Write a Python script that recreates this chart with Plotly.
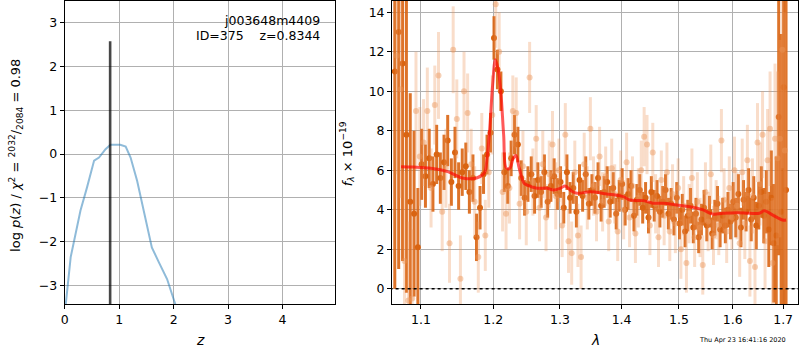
import numpy as np
import plotly.graph_objects as go

# ---------------- data ----------------
# left panel: log p(z)
pz_z = [0.0, 0.02, 0.11, 0.17, 0.29, 0.41, 0.54, 0.63, 0.75, 0.84, 0.93, 1.02, 1.12, 1.21, 1.33, 1.45,
        1.60, 1.73, 1.88, 2.03, 2.10]
pz_logp = [-3.9, -3.42, -2.35, -1.97, -1.29, -0.76, -0.15, -0.08, 0.11, 0.21, 0.21, 0.21, 0.17, -0.08,
           -0.61, -1.29, -2.13, -2.47, -2.85, -3.42, -3.7]
z_best = 0.8344
z_line_top = 2.57

# right panel: spectrum (dark points)
dark_lam = [1.066, 1.071, 1.076, 1.081, 1.086, 1.091, 1.096, 1.101, 1.106, 1.111, 1.116, 1.121, 1.126,
            1.131, 1.136, 1.141, 1.146, 1.151, 1.156, 1.161, 1.166, 1.171, 1.176, 1.181, 1.186, 1.191,
            1.196, 1.201, 1.206, 1.211, 1.216, 1.221, 1.226, 1.231, 1.236, 1.241, 1.246, 1.251, 1.256,
            1.261, 1.266, 1.271, 1.276, 1.281, 1.286, 1.291, 1.296, 1.301, 1.306, 1.311, 1.316, 1.321,
            1.326, 1.331, 1.336, 1.341, 1.346, 1.351, 1.356, 1.361, 1.366, 1.371, 1.376, 1.381, 1.386,
            1.391, 1.396, 1.401, 1.406, 1.411, 1.416, 1.421, 1.426, 1.431, 1.436, 1.441, 1.446, 1.451,
            1.456, 1.461, 1.466, 1.471, 1.476, 1.481, 1.486, 1.491, 1.496, 1.501, 1.506, 1.511, 1.516,
            1.521, 1.526, 1.531, 1.536, 1.541, 1.546, 1.551, 1.556, 1.561, 1.566, 1.571, 1.576, 1.581,
            1.586, 1.591, 1.596, 1.601, 1.606, 1.611, 1.616, 1.621, 1.626, 1.631, 1.636, 1.641, 1.646,
            1.651, 1.656, 1.661, 1.666, 1.671, 1.676, 1.681, 1.686, 1.691, 1.696, 1.701, 1.706]
dark_flux = [11.0, 13.0, 11.4, 7.8, 4.4, 3.8, 2.1, 6.3, 5.7, 6.6, 5.3, 6.8, 5.6,
             6.4, 7.5, 5.4, 6.9, 5.2, 5.9, 6.2, 4.9, 5.6, 2.6, 4.1, 5.8, 6.8,
             7.9, 12.7, 11.1, 10.0, 5.9, 5.2, 6.6, 7.8, 7.3, 5.6, 4.6, 5.3, 5.8,
             4.7, 5.5, 4.9, 5.9, 4.4, 5.2, 5.7, 4.8, 5.4, 4.1, 5.9, 4.6, 5.1,
             3.9, 5.5, 4.7, 5.8, 4.3, 5.0, 4.6, 5.6, 4.2, 4.9, 5.4, 4.4, 5.1,
             3.8, 4.7, 5.3, 4.0, 4.8, 5.2, 3.7, 4.5, 5.0, 4.1, 4.6, 3.6, 4.9,
             4.2, 4.7, 3.9, 4.4, 5.0, 3.8, 4.3, 3.5, 4.6, 3.3, 4.0, 2.9, 3.7,
             4.2, 3.1, 3.8, 2.6, 3.5, 4.1, 3.2, 3.9, 2.8, 3.6, 4.3, 3.0, 3.7,
             3.2, 4.0, 3.4, 4.4, 3.6, 4.8, 3.1, 4.5, 3.9, 5.0, 3.5, 4.6, 3.2,
             4.2, 4.9, 3.7, 4.4, 3.0, 4.6, 2.3, 2.7, 8.7, 3.9, 10.2, 5.0]
dark_err = [11.0, 12.0, 10.0, 8.0, 5.5, 4.2, 3.0, 1.8, 1.6, 1.5, 1.4, 1.5, 1.3,
            1.4, 1.3, 1.2, 1.3, 1.2, 1.2, 1.2, 1.1, 1.2, 1.2, 1.1, 1.0, 1.0,
            1.0, 1.1, 1.0, 1.0, 1.0, 0.9, 0.9, 1.0, 0.9, 0.9, 0.9, 0.9, 0.9,
            0.9, 0.9, 0.8, 0.9, 0.8, 0.8, 0.9, 0.8, 0.8, 0.8, 0.9, 0.8, 0.8,
            0.8, 0.8, 0.8, 0.9, 0.8, 0.8, 0.8, 0.8, 0.8, 0.8, 0.8, 0.8, 0.8,
            0.8, 0.8, 0.8, 0.8, 0.8, 0.8, 0.8, 0.8, 0.8, 0.8, 0.8, 0.8, 0.8,
            0.8, 0.8, 0.8, 0.8, 0.8, 0.8, 0.8, 0.8, 0.8, 0.8, 0.8, 0.8, 0.8,
            0.9, 0.8, 0.8, 0.8, 0.8, 0.9, 0.8, 0.8, 0.8, 0.9, 0.9, 0.9, 0.9,
            0.9, 0.9, 0.9, 1.0, 1.0, 1.0, 1.0, 1.0, 1.0, 1.1, 1.1, 1.1, 1.2,
            1.2, 1.3, 1.4, 1.6, 1.9, 2.4, 3.0, 4.0, 7.0, 9.0, 11.0, 13.0]

# right panel: spectrum (light points)
light_lam = [1.0685, 1.0735, 1.0785, 1.0835, 1.0885, 1.0935, 1.0985, 1.1035, 1.1085, 1.1135, 1.1185,
             1.1235, 1.1285, 1.1335, 1.1385, 1.1435, 1.1485, 1.1535, 1.1585, 1.1635, 1.1685, 1.1735,
             1.1785, 1.1835, 1.1885, 1.1935, 1.1985, 1.2035, 1.2085, 1.2135, 1.2185, 1.2235, 1.2285,
             1.2335, 1.2385, 1.2435, 1.2485, 1.2535, 1.2585, 1.2635, 1.2685, 1.2735, 1.2785, 1.2835,
             1.2885, 1.2935, 1.2985, 1.3035, 1.3085, 1.3135, 1.3185, 1.3235, 1.3285, 1.3335, 1.3385,
             1.3435, 1.3485, 1.3535, 1.3585, 1.3635, 1.3685, 1.3735, 1.3785, 1.3835, 1.3885, 1.3935,
             1.3985, 1.4035, 1.4085, 1.4135, 1.4185, 1.4235, 1.4285, 1.4335, 1.4385, 1.4435, 1.4485,
             1.4535, 1.4585, 1.4635, 1.4685, 1.4735, 1.4785, 1.4835, 1.4885, 1.4935, 1.4985, 1.5035,
             1.5085, 1.5135, 1.5185, 1.5235, 1.5285, 1.5335, 1.5385, 1.5435, 1.5485, 1.5535, 1.5585,
             1.5635, 1.5685, 1.5735, 1.5785, 1.5835, 1.5885, 1.5935, 1.5985, 1.6035, 1.6085, 1.6135,
             1.6185, 1.6235, 1.6285, 1.6335, 1.6385, 1.6435, 1.6485, 1.6535, 1.6585, 1.6635, 1.6685,
             1.6735, 1.6785, 1.6835, 1.6885, 1.6935, 1.6985, 1.7035]
light_flux = [11.8, 10.1, 1.4, -0.6, -0.5, 9.0, 6.7, 7.4, 9.0, 5.1, 9.3,
              10.8, 3.9, 6.1, 2.3, 12.1, 8.6, 0.5, 10.0, 8.9, 6.3, 4.4,
              1.6, 7.1, 2.7, 5.9, 8.8, 14.4, 12.0, 4.9, 3.8, 5.1, 9.0,
              8.9, 4.3, 6.2, 3.9, 10.7, 5.4, 7.6, 4.1, 6.3, 3.6, 5.8,
              7.3, 4.7, 6.0, 3.2, 7.8, 2.4, 1.8, 5.9, 2.7, 1.6, 6.3,
              4.6, 8.1, 5.2, 3.9, 6.7, 4.4, 5.7, 3.4, 6.1, 4.8, 2.9,
              5.5, 4.0, 6.4, 3.6, 5.2, 2.8, 4.6, 6.0, 7.7, 7.3, 3.2,
              6.9, 4.3, 2.6, 5.5, 3.7, 5.9, 2.9, 4.8, 3.3, 5.1, 2.0,
              4.2, 1.3, 3.8, 5.6, 2.6, 4.4, 3.1, 1.2, 4.9, 3.4, 5.8,
              2.7, 4.0, 3.2, 7.5, 4.5, 2.9, 5.1, 3.6, 6.0, 4.2, 2.3,
              5.9, 3.3, 6.5, 1.4, 4.7, 1.1, 7.4, 5.3, 7.8, 2.4, 6.5,
              8.1, 1.3, 7.6, 6.6, 7.6, 12.1, 7.0]
light_err = [6.0, 5.5, 4.5, 4.0, 3.5, 3.0, 2.5, 2.2, 2.2, 2.0, 2.0,
             2.2, 2.0, 2.0, 2.0, 2.2, 2.0, 2.2, 2.0, 2.0, 1.8, 1.8,
             1.8, 1.8, 1.8, 1.8, 2.0, 2.2, 2.0, 2.0, 1.8, 1.8, 1.8,
             1.8, 1.8, 1.8, 1.7, 1.8, 1.7, 1.7, 1.7, 1.7, 1.7, 1.7,
             1.7, 1.7, 1.6, 1.6, 1.6, 1.6, 1.6, 1.6, 1.6, 1.6, 1.6,
             1.6, 1.6, 1.5, 1.5, 1.5, 1.5, 1.5, 1.5, 1.5, 1.5, 1.5,
             1.5, 1.5, 1.5, 1.5, 1.5, 1.5, 1.5, 1.5, 1.5, 1.5, 1.5,
             1.5, 1.5, 1.5, 1.5, 1.5, 1.5, 1.5, 1.5, 1.5, 1.5, 1.5,
             1.5, 1.5, 1.5, 1.5, 1.5, 1.5, 1.5, 1.5, 1.5, 1.5, 1.5,
             1.5, 1.5, 1.5, 1.6, 1.6, 1.6, 1.6, 1.6, 1.7, 1.7, 1.7,
             1.7, 1.8, 1.8, 1.8, 1.9, 1.9, 2.0, 2.1, 2.2, 2.4, 2.6,
             2.9, 3.3, 3.8, 4.4, 5.0, 6.0, 7.0]

# model
model_lam = [1.074, 1.090, 1.113, 1.136, 1.158, 1.177, 1.187, 1.191, 1.195, 1.199, 1.203, 1.207, 1.211,
             1.215, 1.219, 1.224, 1.229, 1.233, 1.238, 1.245, 1.250, 1.265, 1.280, 1.290, 1.301, 1.308,
             1.318, 1.327, 1.348, 1.375, 1.403, 1.414, 1.437, 1.454, 1.472, 1.496, 1.520, 1.544, 1.562,
             1.581, 1.607, 1.633, 1.652, 1.662, 1.679, 1.699, 1.706]
model_flux = [6.18, 6.16, 6.10, 5.93, 5.59, 5.62, 5.85, 6.6, 8.2, 10.3, 11.6, 11.1, 9.9,
              7.8, 6.1, 6.1, 6.6, 6.75, 6.1, 5.35, 5.25, 5.09, 5.09, 5.0, 5.09, 5.2,
              4.95, 4.83, 4.91, 4.80, 4.66, 4.49, 4.46, 4.33, 4.33, 4.24, 4.15, 3.99, 3.78,
              3.82, 3.85, 3.82, 3.82, 3.95, 3.73, 3.48, 3.48]

right_ticks = [1.1, 1.2, 1.3, 1.4, 1.5, 1.6, 1.7]

# ---------------- figure ----------------
W, H = 800, 350
def px(x):
    return x / W
def py(y):
    return 1 - y / H

FONT = "DejaVu Sans"
DARK = "rgb(217,100,18)"
LIGHT_BAR = "rgba(236,150,90,0.32)"
LIGHT_MK = "rgba(236,150,90,0.45)"

fig = go.Figure()

# left panel
fig.add_trace(go.Scatter(x=pz_z, y=pz_logp, mode="lines",
                         line=dict(color="rgba(31,119,180,0.5)", width=2),
                         xaxis="x", yaxis="y", showlegend=False))
fig.add_trace(go.Scatter(x=[z_best, z_best], y=[-5, z_line_top], mode="lines",
                         line=dict(color="rgba(0,0,0,0.72)", width=2.6),
                         xaxis="x", yaxis="y", showlegend=False))

# right panel
fig.add_trace(go.Scatter(x=dark_lam, y=dark_flux, mode="markers",
                         marker=dict(color=DARK, size=6),
                         error_y=dict(type="data", array=dark_err, color="rgba(217,100,18,0.9)",
                                      thickness=3, width=0),
                         xaxis="x2", yaxis="y2", showlegend=False))
fig.add_trace(go.Scatter(x=light_lam, y=light_flux, mode="markers",
                         marker=dict(color=LIGHT_MK, size=6),
                         error_y=dict(type="data", array=light_err, color=LIGHT_BAR,
                                      thickness=3, width=0),
                         xaxis="x2", yaxis="y2", showlegend=False))
fig.add_trace(go.Scatter(x=model_lam, y=model_flux, mode="lines",
                         line=dict(color="rgba(255,0,0,0.65)", width=3, shape="spline"),
                         xaxis="x2", yaxis="y2", showlegend=False))
fig.add_trace(go.Scatter(x=[1.0, 1.8], y=[0, 0], mode="lines",
                         line=dict(color="black", width=1.5, dash="dot"),
                         xaxis="x2", yaxis="y2", showlegend=False))

axis_common = dict(showline=True, linecolor="black", linewidth=1, mirror=True,
                   ticks="outside", ticklen=4, tickcolor="black", tickwidth=1,
                   showgrid=True, gridcolor="#b0b0b0", gridwidth=1, zeroline=False,
                   tickfont=dict(family=FONT, size=12.5, color="black"))

ytop, ybot = py(1), py(304)
fig.update_layout(
    width=W, height=H,
    margin=dict(l=0, r=0, t=0, b=0),
    paper_bgcolor="white", plot_bgcolor="white",
    xaxis=dict(domain=[px(61), px(333)], range=[0, 4.97], tickvals=[0, 1, 2, 3, 4],
               anchor="y", **axis_common),
    yaxis=dict(domain=[ybot, ytop], range=[-3.42, 3.49], tickvals=[-3, -2, -1, 0, 1, 2, 3],
               ticktext=["\u22123", "\u22122", "\u22121", "0", "1", "2", "3"],
               anchor="x", **axis_common),
    xaxis2=dict(domain=[px(390), px(798)], type="log",
                range=[np.log10(1.0625), np.log10(1.7307)],
                tickvals=right_ticks, ticktext=[str(t) for t in right_ticks],
                anchor="y2", **axis_common),
    yaxis2=dict(domain=[ybot, ytop], range=[-0.775, 14.57], tickvals=[0, 2, 4, 6, 8, 10, 12, 14],
                anchor="x2", **axis_common),
)

ann = []
tf = dict(family=FONT, size=12.5, color="black")
ann.append(dict(x=px(320), y=py(20), xref="paper", yref="paper", text="j003648m4409",
                showarrow=False, xanchor="right", yanchor="middle", font=tf))
ann.append(dict(x=px(320), y=py(35.5), xref="paper", yref="paper",
                text="ID=375\u00a0\u00a0\u00a0\u00a0z=0.8344",
                showarrow=False, xanchor="right", yanchor="middle", font=tf))
ann.append(dict(x=px(197), y=py(340), xref="paper", yref="paper", text="<i>z</i>",
                showarrow=False, xanchor="center", yanchor="middle", font=dict(family=FONT, size=14, color="black")))
ann.append(dict(x=px(594), y=py(340), xref="paper", yref="paper", text="<i>λ</i>",
                showarrow=False, xanchor="center", yanchor="middle", font=dict(family=FONT, size=14, color="black")))
ann.append(dict(x=px(12), y=py(155), xref="paper", yref="paper",
                text="log <i>p</i>(<i>z</i>) / <i>χ</i><sup>2</sup> = <sup>2032</sup>/<sub>2084</sub> = 0.98",
                textangle=-90, showarrow=False, xanchor="center", yanchor="middle",
                font=dict(family=FONT, size=13, color="black")))
ann.append(dict(x=px(345), y=py(154), xref="paper", yref="paper",
                text="<i>f</i><sub><i>λ</i></sub> × 10<sup>\u221219</sup>",
                textangle=-90, showarrow=False, xanchor="center", yanchor="middle",
                font=dict(family=FONT, size=13, color="black")))
ann.append(dict(x=px(742), y=py(340), xref="paper", yref="paper", text="Thu Apr 23 16:41:16 2020",
                showarrow=False, xanchor="center", yanchor="middle",
                font=dict(family=FONT, size=6.5, color="black")))
fig.update_layout(annotations=ann)

fig.write_html("out.html", config={"displayModeBar": False},
               post_script="document.body.style.margin='0';document.body.style.overflow='hidden';")
